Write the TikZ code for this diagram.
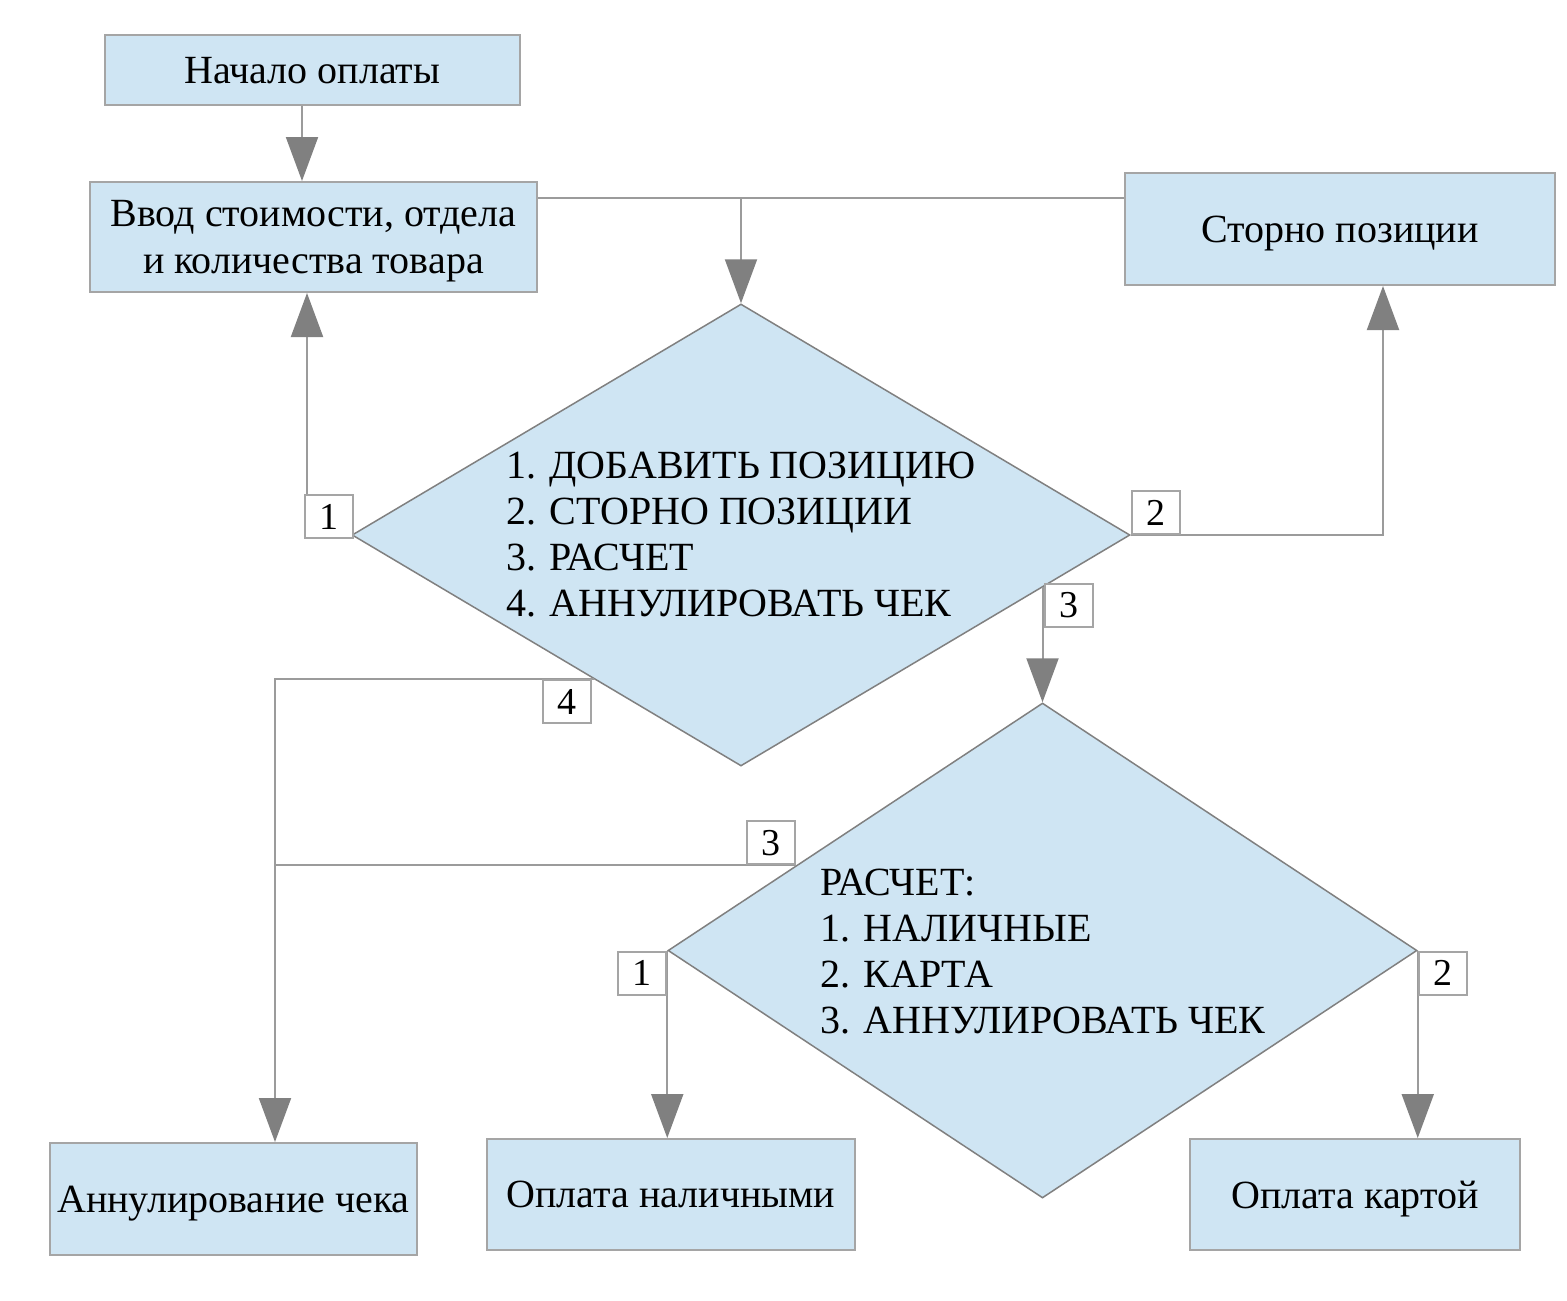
\documentclass[tikz,border=0pt]{standalone}
\usepackage{fontspec}
\setmainfont{Liberation Serif}
\usetikzlibrary{arrows.meta,calc,shapes.geometric}
\definecolor{bfill}{RGB}{207,229,243}
\definecolor{bdraw}{RGB}{165,165,165}
\definecolor{lcol}{RGB}{155,155,155}
\definecolor{acol}{RGB}{128,128,128}
\begin{document}
\begin{tikzpicture}[x=1pt,y=-1pt,
  box/.style={draw=bdraw, line width=2pt, fill=bfill, inner sep=0pt, text depth=0pt, font=\fontsize{40}{47}\selectfont, align=center},
  dia/.style={diamond, draw=acol, line width=1.5pt, fill=bfill, inner sep=0pt},
  txt/.style={inner sep=0pt, align=left, font=\fontsize{40}{46}\selectfont},
  lab/.style={draw=bdraw, line width=2pt, fill=white, minimum width=48pt, minimum height=43pt, inner sep=0pt, font=\fontsize{38}{40}\selectfont},
  conn/.style={draw=lcol, line width=2pt},
  arr/.style={conn, -{Triangle[length=44pt,width=32pt,color=acol]}},
]
\useasboundingbox (0,0) rectangle (1567,1301);
\fill[white] (0,0) rectangle (1567,1301);

\node[box, minimum width=415pt, minimum height=70pt] (start) at (312.5,70) {Начало оплаты};
\node[box, minimum width=447pt, minimum height=110pt] (input) at (313.5,237) {Ввод стоимости, отдела\\и количества товара};
\node[box, minimum width=430pt, minimum height=112pt] (storno) at (1340,229) {Сторно позиции};

\node[dia, minimum width=778pt, minimum height=462pt] (d1) at (741,535) {};
\node[txt, anchor=west] (t1) at (506,535) {1. ДОБАВИТЬ ПОЗИЦИЮ\\2. СТОРНО ПОЗИЦИИ\\3. РАСЧЕТ\\4. АННУЛИРОВАТЬ ЧЕК};

\node[dia, minimum width=749pt, minimum height=495pt] (d2) at (1042.5,950.5) {};
\node[txt, anchor=west] (t2) at (820,952) {РАСЧЕТ:\\1. НАЛИЧНЫЕ\\2. КАРТА\\3. АННУЛИРОВАТЬ ЧЕК};

\node[box, minimum width=367pt, minimum height=112pt] (annul) at (233.5,1199) {Аннулирование чека};
\node[box, minimum width=368pt, minimum height=111pt] (cash) at (671,1194.5) {Оплата наличными};
\node[box, minimum width=330pt, minimum height=111pt] (card) at (1355,1194.5) {Оплата картой};

\coordinate (jy) at (0,198);
\coordinate (c302) at (302,0);
\coordinate (c307) at (307,0);
\coordinate (c1383) at (1383,0);
\coordinate (c275) at (275,0);
\coordinate (p3) at ($(d1.east)!0.223!(d1.south)$);
\coordinate (p4) at ($(d1.west)!0.622!(d1.south)$);
\coordinate (p3b) at ($(d2.west)!0.344!(d2.north)$);

\draw[arr] (start.south -| c302) -- (input.north -| c302);
\draw[conn] (input.east |- jy) -- (storno.west |- jy);
\draw[arr] (d1.north |- jy) -- (d1.north);
\draw[arr] (d1.west) -- (d1.west -| c307) -- (input.south -| c307);
\draw[arr] (d1.east) -- (d1.east -| c1383) -- (storno.south -| c1383);
\draw[arr] (p3 -| d2.north) -- (d2.north);
\draw[arr] (p4) -- (p4 -| c275) -- (annul.north -| c275);
\draw[conn] (p3b) -- (p3b -| c275);
\draw[arr] (d2.west) -- (cash.north -| d2.west);
\draw[arr] (d2.east) -- (card.north -| d2.east);

\node[lab, anchor=south east, xshift=3pt, yshift=-4pt] (l1a) at (d1.west) {1};
\node[lab, anchor=south west] (l2a) at (d1.east) {2};
\node[lab, anchor=north west, yshift=4pt] (l3a) at (p3) {3};
\node[lab, anchor=north east, xshift=-2pt] (l4a) at (p4) {4};
\node[lab, anchor=south east] (l3b) at (p3b) {3};
\node[lab, anchor=north east] (l1b) at (d2.west) {1};
\node[lab, anchor=north west] (l2b) at (d2.east) {2};
\end{tikzpicture}
\end{document}
